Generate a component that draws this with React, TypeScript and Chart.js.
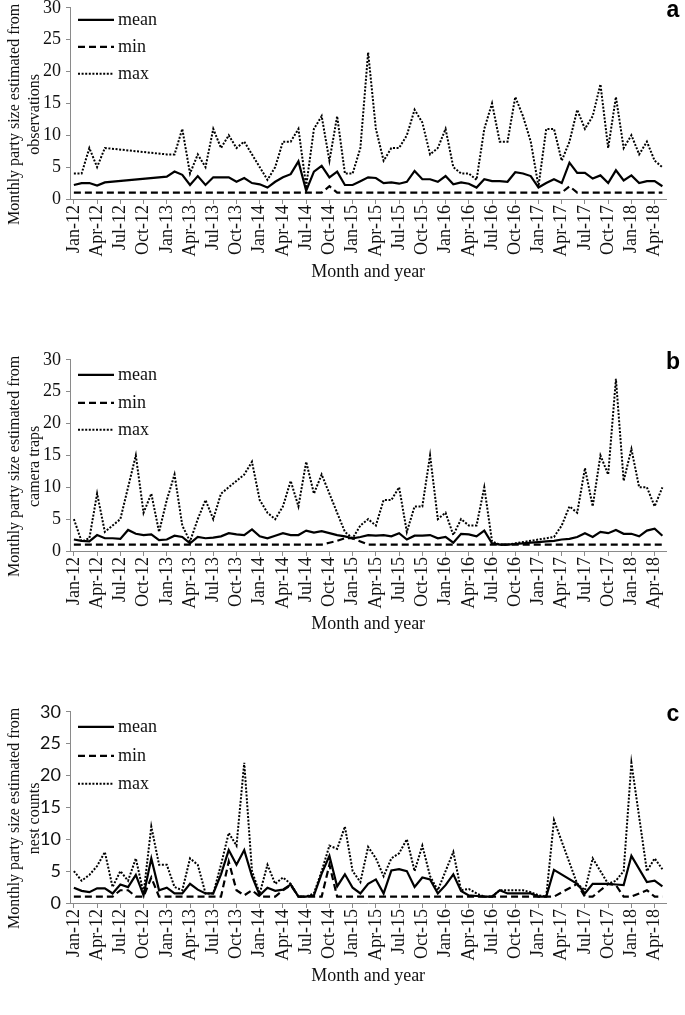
import React, { useEffect, useRef } from "react";
import { Chart, registerables } from "chart.js";
Chart.register(...registerables);

// ---------- categories ----------
const MONTHS = [
  "Jan-12","Feb-12","Mar-12","Apr-12","May-12","Jun-12","Jul-12","Aug-12","Sep-12","Oct-12","Nov-12","Dec-12",
  "Jan-13","Feb-13","Mar-13","Apr-13","May-13","Jun-13","Jul-13","Aug-13","Sep-13","Oct-13","Nov-13","Dec-13",
  "Jan-14","Feb-14","Mar-14","Apr-14","May-14","Jun-14","Jul-14","Aug-14","Sep-14","Oct-14","Nov-14","Dec-14",
  "Jan-15","Feb-15","Mar-15","Apr-15","May-15","Jun-15","Jul-15","Aug-15","Sep-15","Oct-15","Nov-15","Dec-15",
  "Jan-16","Feb-16","Mar-16","Apr-16","May-16","Jun-16","Jul-16","Aug-16","Sep-16","Oct-16","Nov-16","Dec-16",
  "Jan-17","Feb-17","Mar-17","Apr-17","May-17","Jun-17","Jul-17","Aug-17","Sep-17","Oct-17","Nov-17","Dec-17",
  "Jan-18","Feb-18","Mar-18","Apr-18","May-18",
];
const LABEL_EVERY = 3;
const SERIES_NAMES = ["mean", "min", "max"];
const X_TITLE = "Month and year";

// ---------- panel a: observations ----------
const obsMean = [2.2,2.5,2.5,2.1,2.6,null,null,null,null,null,null,null,
  3.5,4.3,3.8,2.2,3.6,2.2,3.4,3.4,3.4,2.7,3.3,2.5,
  2.3,1.8,2.7,3.4,3.9,5.9,1.3,4.3,5.2,3.4,4.3,2.2,
  2.2,2.8,3.4,3.3,2.5,2.6,2.4,2.7,4.4,3.1,3.1,2.7,
  3.6,2.3,2.6,2.4,1.8,3.1,2.8,2.8,2.7,4.2,4.0,3.6,
  1.8,2.5,3.1,2.5,5.7,4.1,4.1,3.2,3.7,2.5,4.5,2.9,
  3.7,2.5,2.8,2.8,2.0];
const obsMin = [1,1,1,1,1,null,null,null,null,null,null,null,
  1,1,1,1,1,1,1,1,1,1,1,1,
  1,1,1,1,1,1,1,1,1,2,1,1,
  1,1,1,1,1,1,1,1,1,1,1,1,
  1,1,1,1,1,1,1,1,1,1,1,1,
  1,1,1,1,2,1,1,1,1,1,1,1,
  1,1,1,1,1];
const obsMax = [4,4,8,5,8,null,null,null,null,null,null,null,
  7,7,11,4,7,5,11,8,10,8,9,7,
  5,3,5,9,9,11,2,11,13,6,13,4,
  4,8,23,11,6,8,8,10,14,12,7,8,
  11,5,4,4,3,11,15,9,9,16,13,9,
  2,11,11,6,9,14,11,13,18,8,16,8,
  10,7,9,6,5];

// ---------- panel b: camera traps ----------
const camMean = [1.8,1.6,1.5,2.5,2.0,2.0,1.9,3.3,2.7,2.5,2.6,1.7,
  1.8,2.4,2.2,1.2,2.2,2.0,2.1,2.3,2.8,2.6,2.5,3.4,
  2.3,2.0,2.4,2.8,2.5,2.5,3.2,2.9,3.1,2.8,2.5,2.3,
  2.0,2.2,2.5,2.4,2.5,2.3,2.8,1.8,2.4,2.4,2.5,2.0,
  2.2,1.3,2.7,2.6,2.3,3.2,1.2,1.0,1.0,1.1,1.2,1.3,
  1.4,1.5,1.6,1.8,1.9,2.2,2.8,2.2,3.0,2.8,3.3,2.7,
  2.7,2.3,3.2,3.5,2.4];
const camMin = [1,1,1,1,1,1,1,1,1,1,1,1,
  1,1,1,1,1,1,1,1,1,1,1,1,
  1,1,1,1,1,1,1,1,1,1.3,1.6,2,
  2,1.5,1,1,1,1,1,1,1,1,1,1,
  1,1,1,1,1,1,1,1,1,1,1,1,
  1,1,1,1,1,1,1,1,1,1,1,1,
  1,1,1,1,1];
const camMax = [5,1.5,2,9,3,4,5,10,15,6,9,3,
  8,12,4,1.5,5,8,5,9,10,11,12,14,
  8,6,5,7,11,7,14,9,12,9,6,3,
  2,4,5,4,8,8,10,3,7,7,15,5,
  6,2.5,5,4,4,10,1.5,1,1,1.2,1.4,1.6,
  1.8,2,2.2,4,7,6,13,7,15,12,27,11,
  16,10,10,7,10];

// ---------- panel c: nest counts ----------
const nestMean = [2.4,1.9,1.7,2.3,2.3,1.5,2.9,2.5,4.4,1.2,7.0,2.0,
  2.4,1.5,1.5,3.0,2.1,1.5,1.5,4.5,8.3,6.0,8.3,4.2,
  1.2,2.4,1.9,2.1,2.9,1.0,1.0,1.2,4.6,7.4,2.6,4.5,
  2.4,1.5,3.0,3.7,1.5,5.1,5.3,5.0,2.5,4.0,3.7,1.5,
  2.8,4.5,1.9,1.2,1.1,1.0,1.0,2.0,1.5,1.5,1.5,1.5,
  1.0,1.0,5.2,null,null,3.0,1.5,3.0,3.0,3.0,2.9,2.8,
  7.4,null,3.3,3.5,2.6];
const nestMin = [1,1,1,1,1,1,2,2,1,1,4,1,
  1,1,1,1,1,1,1,1,6.5,2,1.2,2,
  1,1,1,2,2.8,1,1,1,1,6,1,1,
  1,1,1,1,1,1,1,1,1,1,1,1,
  1,1,1,1,1,1,1,1,1,1,1,1,
  1,1,1,null,null,3,1,1,2,3,2.8,1,
  1,null,2,1,1];
const nestMax = [5,3.5,4.4,5.8,8,2.5,5,3.5,7,1.5,12,6,
  6,2.5,2,7,6,1.5,1.5,6,11,9,22,5,
  1.5,6,3,4,3,1,1,1.5,5,9,8.5,12,
  5,3.3,8.8,7,4.2,7,7.8,10,5,9,4.2,2,
  5,8,2,2.2,1.5,1,1,2,2,2,2,1.7,
  1.2,1,13,null,null,3,2,7,5,3,3.5,5,
  22,null,5,7,5.3];

// ---------- styling constants ----------
const SERIF = "'Liberation Serif', 'Times New Roman', serif";
const SANS_TICKS = "Lato, 'Liberation Sans', sans-serif";
const AXIS = "#8a8a8a";
const INK = "#111";
const W = 685;
const PAD_TOP = 14;
const PLOT_H = 193;
const X_AXIS_H = 86;
const Y_AXIS_W = 69;
const PAD_LEFT = 1;
const PAD_RIGHT = 2;

type Spec = {
  plotTop: number;
  letter: string;
  title: string[];
  mean: (number | null)[];
  min: (number | null)[];
  max: (number | null)[];
  yFont: string;
  legendDy: number[];
};

const PANELS: Spec[] = [
  { plotTop: 6, letter: "a", title: ["Monthly party size estimated from", "observations"], mean: obsMean, min: obsMin, max: obsMax, yFont: SERIF, legendDy: [12, 39, 66] },
  { plotTop: 358, letter: "b", title: ["Monthly party size estimated from", "camera traps"], mean: camMean, min: camMin, max: camMax, yFont: SERIF, legendDy: [15, 43, 70] },
  { plotTop: 710, letter: "c", title: ["Monthly party size estimated from", "nest counts"], mean: nestMean, min: nestMin, max: nestMax, yFont: SANS_TICKS, legendDy: [15, 44, 72] },
];

function Panel({ spec }: { spec: Spec }) {
  const ref = useRef<HTMLCanvasElement>(null);
  const H = PAD_TOP + PLOT_H + X_AXIS_H;
  useEffect(() => {
    const overlay = {
      id: "overlay",
      afterDraw(chart: any) {
        const { ctx, chartArea } = chart;
        const L = chartArea.left;
        const T = chartArea.top;
        ctx.save();
        // legend inside the plot
        chart.data.datasets.forEach((ds: any, k: number) => {
          const y = T + spec.legendDy[k];
          ctx.beginPath();
          ctx.setLineDash(ds.borderDash || []);
          ctx.lineWidth = ds.borderWidth;
          ctx.strokeStyle = "#000";
          ctx.moveTo(L + 8, y);
          ctx.lineTo(L + 44, y);
          ctx.stroke();
          ctx.setLineDash([]);
          ctx.fillStyle = INK;
          ctx.font = `18px ${SERIF}`;
          ctx.textBaseline = "middle";
          ctx.textAlign = "left";
          ctx.fillText(ds.label, L + 48, y);
        });
        // y-axis title (two lines, rotated)
        const cy = (chartArea.top + chartArea.bottom) / 2 + 11;
        ctx.font = `16px ${SERIF}`;
        ctx.textAlign = "center";
        ctx.textBaseline = "middle";
        ctx.fillStyle = INK;
        spec.title.forEach((line, k) => {
          ctx.save();
          ctx.translate(15 + k * 20, cy);
          ctx.rotate(-Math.PI / 2);
          ctx.fillText(line, 0, 0);
          ctx.restore();
        });
        // panel letter
        ctx.font = "bold 23px 'Liberation Sans', Arial, sans-serif";
        ctx.textAlign = "center";
        ctx.textBaseline = "middle";
        ctx.fillStyle = "#000";
        ctx.fillText(spec.letter, 673, T + 3);
        ctx.restore();
      },
    };
    const chart = new Chart(ref.current!, {
      type: "line",
      data: {
        labels: MONTHS,
        datasets: [
          { label: SERIES_NAMES[0], data: spec.mean, borderColor: "#000", borderWidth: 2.2, borderDash: [] },
          { label: SERIES_NAMES[1], data: spec.min, borderColor: "#000", borderWidth: 2.2, borderDash: [7, 4] },
          { label: SERIES_NAMES[2], data: spec.max, borderColor: "#000", borderWidth: 2, borderDash: [2, 1.6] },
        ],
      },
      options: {
        responsive: false,
        animation: false,
        spanGaps: true,
        layout: { padding: { top: PAD_TOP, left: PAD_LEFT, right: PAD_RIGHT, bottom: 0 } },
        elements: { point: { radius: 0 }, line: { tension: 0, borderCapStyle: "butt", borderJoinStyle: "miter" } },
        plugins: { legend: { display: false }, tooltip: { enabled: false } },
        scales: {
          x: {
            type: "category",
            offset: true,
            grid: {
              drawOnChartArea: false,
              drawTicks: true,
              tickLength: 5,
              color: (c: any) => (c.index % LABEL_EVERY === 0 ? AXIS : "rgba(0,0,0,0)"),
            },
            border: { color: AXIS, width: 1 },
            ticks: {
              autoSkip: false,
              maxRotation: 90,
              minRotation: 90,
              padding: 1,
              color: INK,
              font: { family: SERIF, size: 18 },
              callback: (_v: any, i: number) => (i % LABEL_EVERY === 0 ? MONTHS[i] : ""),
            },
            title: { display: true, text: X_TITLE, color: INK, font: { family: SERIF, size: 18, lineHeight: 1.2 }, padding: { top: 0, bottom: 2 } },
            afterFit: (s: any) => { s.height = X_AXIS_H; },
          },
          y: {
            min: 0,
            max: 30,
            ticks: { stepSize: 5, padding: 5, color: INK, font: { family: spec.yFont, size: 18 } },
            grid: { drawOnChartArea: false, drawTicks: true, tickLength: 4, color: AXIS },
            border: { color: AXIS, width: 1 },
            title: { display: false },
            afterFit: (s: any) => { s.width = Y_AXIS_W; },
          },
        },
      },
      plugins: [overlay],
    } as any);
    return () => chart.destroy();
  }, [spec]);
  return (
    <canvas
      ref={ref}
      width={W}
      height={H}
      style={{ position: "absolute", left: 0, top: spec.plotTop - PAD_TOP, width: W, height: H }}
    />
  );
}

export default function App() {
  return (
    <div style={{ position: "absolute", left: 0, top: 0, width: 685, height: 1015, overflow: "hidden", background: "#fff" }}>
      {PANELS.map((p) => (
        <Panel key={p.letter} spec={p} />
      ))}
    </div>
  );
}
